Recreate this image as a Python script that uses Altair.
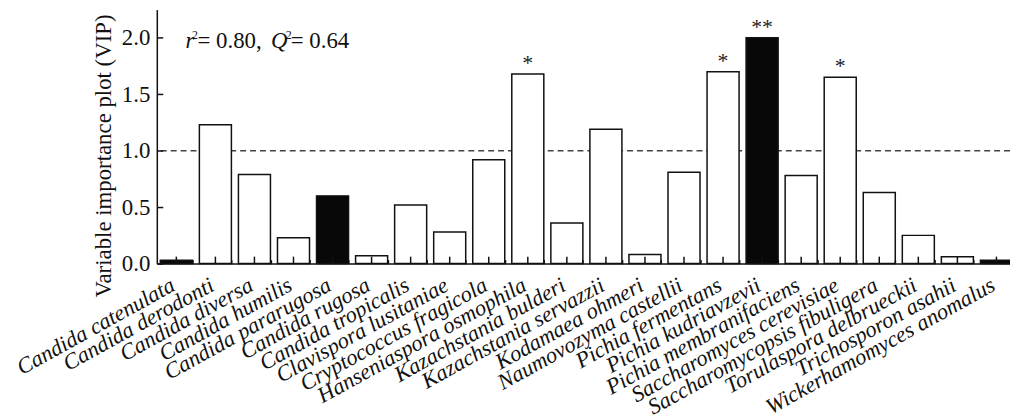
import altair as alt
import pandas as pd

species = [
    "Candida catenulata", "Candida derodonti", "Candida diversa", "Candida humilis",
    "Candida pararugosa", "Candida rugosa", "Candida tropicalis", "Clavispora lusitaniae",
    "Cryptococcus fragicola", "Hanseniaspora osmophila", "Kazachstania bulderi",
    "Kazachstania servazzii", "Kodamaea ohmeri", "Naumovozyma castellii",
    "Pichia fermentans", "Pichia kudriavzevii", "Pichia membranifaciens",
    "Saccharomyces cerevisiae", "Saccharomycopsis fibuligera", "Torulaspora delbrueckii",
    "Trichosporon asahii", "Wickerhamomyces anomalus",
]
vip = [0.03, 1.23, 0.79, 0.23, 0.60, 0.07, 0.52, 0.28, 0.92, 1.68, 0.36,
       1.19, 0.08, 0.81, 1.70, 2.00, 0.78, 1.65, 0.63, 0.25, 0.06, 0.03]
highlight = [True, False, False, False, True, False, False, False, False, False, False,
             False, False, False, False, True, False, False, False, False, False, True]
stars = ["", "", "", "", "", "", "", "", "", "*", "", "", "", "", "*", "**", "", "*",
         "", "", "", ""]
y_ticks = [0.0, 0.25, 0.5, 0.75, 1.0, 1.25, 1.5, 1.75, 2.0, 2.25]
threshold = [1.0]
y_title = "Variable importance plot (VIP)"

df = pd.DataFrame({
    "species": species,
    "vip": vip,
    "group": ["dark" if h else "light" for h in highlight],
    "star": stars,
})

W, H = 860, 256
SERIF = "Liberation Serif"
INK = "#111111"

xscale = alt.Scale(domain=species, range=[0, 866], paddingInner=0.18, paddingOuter=0.09)
yscale = alt.Scale(domain=[0, 2.25], nice=False, zero=True)

base = alt.Chart(df)

bars = base.mark_bar(stroke=INK, strokeWidth=1.5).encode(
    x=alt.X("species:N", scale=xscale, sort=None,
            axis=alt.Axis(title=None, labelAngle=-29, labelAlign="right", labelBaseline="top",
                          labelFont=SERIF, labelFontStyle="italic", labelFontSize=22.5,
                          labelColor=INK, labelPadding=14, labelOffset=-9,
                          labelOverlap=False, labelLimit=0,
                          ticks=True, tickBand="extent", tickSize=alt.ExprRef("-4"),
                          tickColor=INK, tickWidth=1.5,
                          domain=True, domainColor=INK, domainWidth=1.5, zindex=1)),
    y=alt.Y("vip:Q", scale=yscale,
            axis=alt.Axis(values=y_ticks,
                          labelExpr="datum.value % 0.5 == 0 ? format(datum.value, '.1f') : ''",
                          ticks=True, tickSize=alt.ExprRef("-6"), tickColor=INK, tickWidth=1.5,
                          grid=False, domain=True, domainColor=INK, domainWidth=1.5, zindex=1,
                          labelFont=SERIF, labelFontSize=23, labelColor=INK, labelPadding=13,
                          title=y_title, titleFont=SERIF, titleFontSize=23, titleY=147,
                          titleFontWeight="normal", titleColor=INK, titlePadding=6)),
    color=alt.Color("group:N", scale=alt.Scale(domain=["dark", "light"],
                                               range=["#080808", "#ffffff"]), legend=None),
)

stars_layer = base.mark_text(font=SERIF, fontSize=22, baseline="alphabetic", dy=-4,
                             color="#222222").encode(
    x=alt.X("species:N", scale=xscale, sort=None),
    y=alt.Y("vip:Q", scale=yscale),
    text="star:N",
)

xtick_major = base.mark_rule(strokeWidth=1.5, color=INK).encode(
    x=alt.X("species:N", scale=xscale, sort=None),
    y=alt.value(H - 7),
    y2=alt.value(H),
)

rule = alt.Chart(pd.DataFrame({"threshold": threshold})).mark_rule(
    strokeDash=[6, 4], color="#444444", strokeWidth=1.5).encode(
    y=alt.Y("threshold:Q", scale=yscale),
)

# annotation r² = 0.80, Q² = 0.64
ann_parts = [
    ("r", 29, 39, 23, "italic"),
    ("2", 35.5, 30, 12, "normal"),
    ("= 0.80,", 41, 39, 23, "normal"),
    ("Q", 115, 39, 23, "italic"),
    ("2", 130, 30, 12, "normal"),
    ("= 0.64", 135, 39, 23, "normal"),
]
ann_layers = []
for txt, px, py, fs, style in ann_parts:
    ann_layers.append(
        alt.Chart(pd.DataFrame({"a": [txt]})).mark_text(
            font=SERIF, fontSize=fs, fontStyle=style, align="left", baseline="alphabetic",
            color=INK).encode(x=alt.value(px), y=alt.value(py), text="a:N")
    )

chart = alt.layer(rule, bars, xtick_major, stars_layer, *ann_layers).properties(
    width=W, height=H,
    autosize=alt.AutoSizeParams(type="none"),
    padding={"left": 150, "top": 0, "right": 0, "bottom": 154},
    background="white",
).configure_view(stroke=None)

chart.save("out.html", embed_options={"renderer": "svg", "actions": False})
